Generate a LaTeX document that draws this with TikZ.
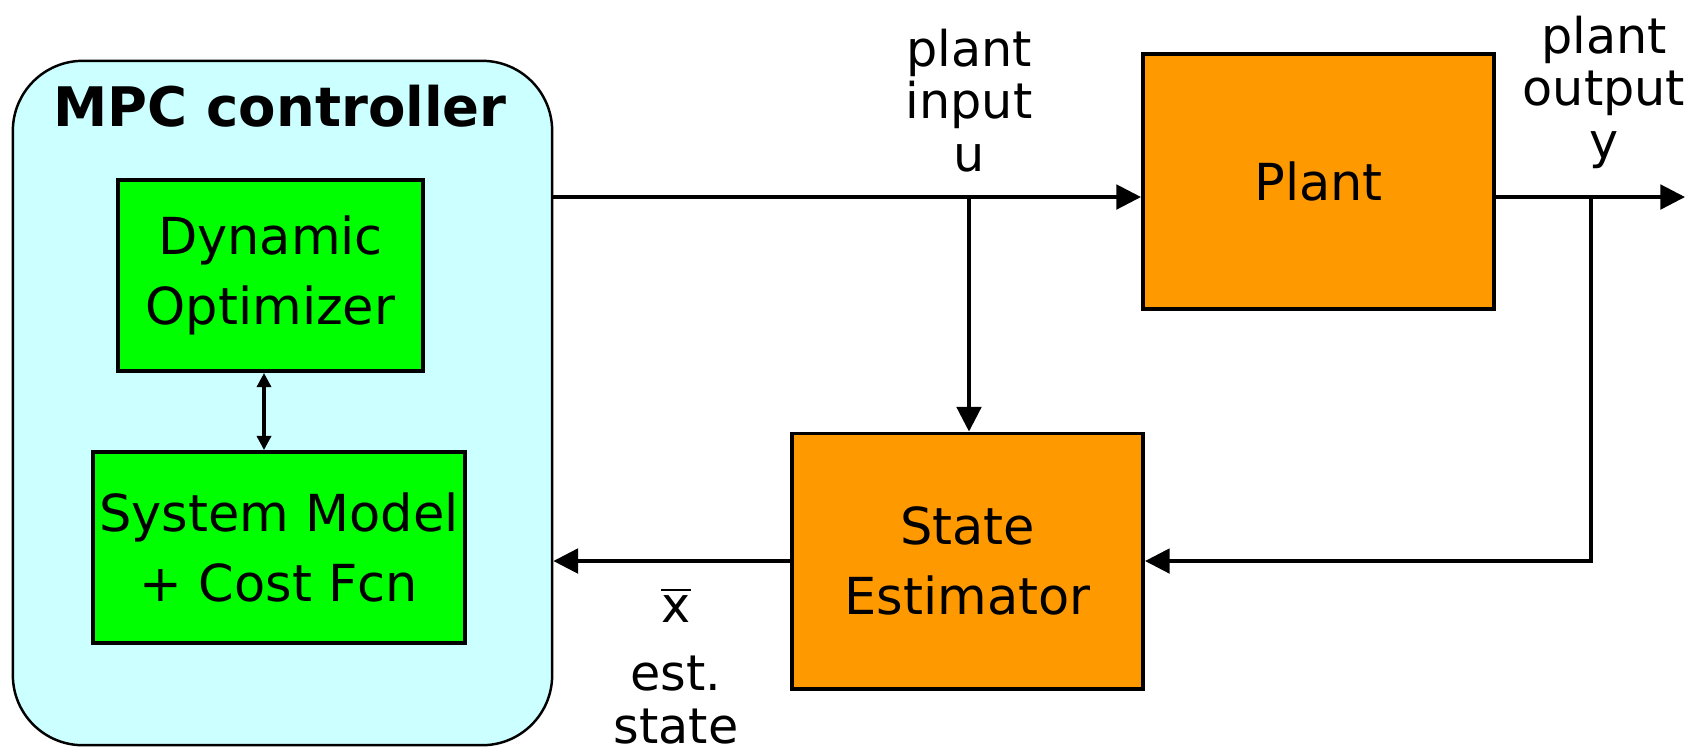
\documentclass[tikz,border=0pt]{standalone}
\usepackage{fontspec}
\setmainfont{DejaVu Sans}
\usetikzlibrary{arrows.meta}
\definecolor{mpcfill}{HTML}{CCFFFF}
\definecolor{greenbox}{HTML}{00FF00}
\definecolor{orangebox}{HTML}{FF9900}
\begin{document}
\begin{tikzpicture}[x=0.01cm,y=-0.01cm,
  blk/.style={draw=black, line width=1.1pt, inner sep=0pt, align=center,
              font=\fontsize{14.5}{20}\selectfont},
  arr/.style={line width=0.9pt, -{Triangle[length=7pt,width=7pt]}},
  darr/.style={line width=0.9pt, {Triangle[length=4pt,width=4pt]}-{Triangle[length=4pt,width=4pt]}},
  lbl/.style={align=center, inner sep=0pt, font=\fontsize{14}{15}\selectfont}]
\useasboundingbox (0,0) rectangle (1688,750);
% container
\node[draw, line width=0.7pt, fill=mpcfill, rounded corners=0.7cm,
      minimum width=5.39cm, minimum height=6.84cm, inner sep=0pt] (mpc) at (282.5,403) {};
\node[font=\bfseries\fontsize{15.5}{18}\selectfont, anchor=base, inner sep=0pt] (title) at (280,126) {MPC controller};
% blocks
\node[blk, fill=greenbox, minimum width=3.05cm, minimum height=1.91cm] (do) at (270.5,275.5) {Dynamic\\Optimizer};
\node[blk, fill=greenbox, minimum width=3.72cm, minimum height=1.91cm] (sm) at (279,547.5) {System Model\\+ Cost Fcn};
\node[blk, fill=orangebox, minimum width=3.51cm, minimum height=2.55cm] (plant) at (1318.5,181.5) {Plant};
\node[blk, fill=orangebox, minimum width=3.51cm, minimum height=2.55cm] (se) at (967.5,561) {State\\Estimator};
% helper coordinates
\coordinate (ujoin) at (969,197);
\coordinate (yjoin) at (1591,197);
\coordinate (yend) at (1685,197);
\coordinate (dx) at (264,0);
% connectors
\draw[arr] (mpc.east |- ujoin) -- (plant.west |- ujoin);
\draw[arr] (ujoin) -- (ujoin |- se.north);
\draw[arr] (plant.east |- yjoin) -- (yend);
\draw[arr] (yjoin) |- (se.east);
\draw[arr] (se.west) -- (mpc.east |- se.west);
\draw[darr] (dx |- do.south) -- (dx |- sm.north);
% labels
\node[lbl, anchor=north] (ulbl) at (969,28) {plant\\input\\u};
\node[lbl, anchor=north] (ylbl) at (1604,15) {plant\\output\\y};
\node[lbl, anchor=base] (xbar) at (676,622) {$\overline{\hbox{x}}$};
\node[lbl, anchor=north] (est) at (676,655) {est.\\state};
\end{tikzpicture}
\end{document}
